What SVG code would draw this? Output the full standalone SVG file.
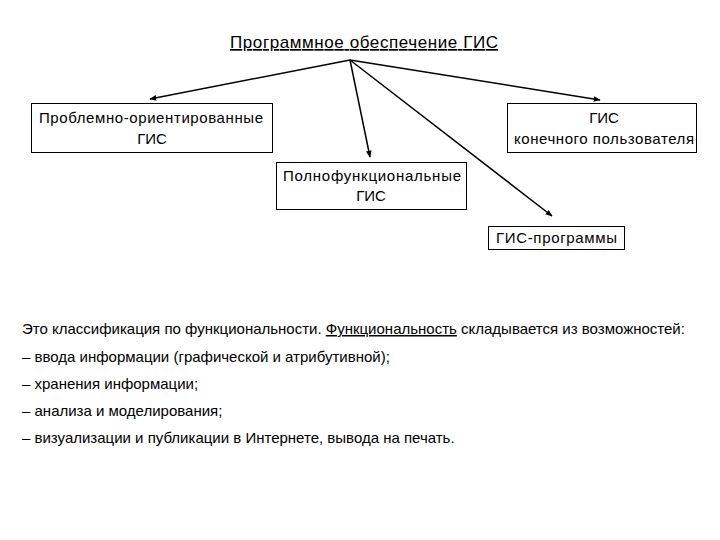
<svg xmlns="http://www.w3.org/2000/svg" width="720" height="540" viewBox="0 0 720 540">
<style>
text{font-family:"Liberation Sans",Arial,sans-serif;font-size:15px;fill:#000}
.bt{font-size:15px}
.tt{font-size:17px}
.box{fill:#fff;stroke:#000;stroke-width:1}
.c{text-anchor:middle}
.ln{stroke:#000;stroke-width:1.5;fill:none;marker-end:url(#ah)}
</style>
<defs>
<marker id="ah" viewBox="0 0 10 10" refX="9" refY="5" markerWidth="7" markerHeight="7" markerUnits="userSpaceOnUse" orient="auto">
<path d="M0,1 L10,5 L0,9 z" fill="#000"/>
</marker>
</defs>
<rect width="720" height="540" fill="#fff"/>
<g id="title">
<text class="tt" x="230" y="48" textLength="268" lengthAdjust="spacing" text-decoration="underline">Программное обеспечение ГИС</text>
</g>
<g id="connectors">
<line class="ln" x1="350" y1="60" x2="150" y2="99"/>
<line class="ln" x1="350" y1="60" x2="370" y2="157"/>
<line class="ln" x1="350" y1="60" x2="552" y2="216"/>
<line class="ln" x1="350" y1="60" x2="600" y2="100"/>
</g>
<g id="n-problem">
<rect class="box" x="31.5" y="103.5" width="241" height="49"/>
<text class="bt" x="39" y="123" textLength="224" lengthAdjust="spacing">Проблемно-ориентированные</text>
<text class="bt c" x="152" y="144">ГИС</text>
</g>
<g id="n-enduser">
<rect class="box" x="507.5" y="103.5" width="189" height="49"/>
<text class="bt c" x="604" y="123">ГИС</text>
<text class="bt" x="514" y="144" textLength="180" lengthAdjust="spacing">конечного пользователя</text>
</g>
<g id="n-full">
<rect class="box" x="276.5" y="162.5" width="190" height="47"/>
<text class="bt" x="283" y="181" textLength="178" lengthAdjust="spacing">Полнофункциональные</text>
<text class="bt c" x="371" y="201">ГИС</text>
</g>
<g id="n-programs">
<rect class="box" x="488.5" y="226.5" width="136" height="23"/>
<text class="bt" x="496" y="243" textLength="121" lengthAdjust="spacing">ГИС-программы</text>
</g>
<g id="description">
<text x="22" y="334">Это классификация по функциональности. <tspan text-decoration="underline">Функциональность</tspan> складывается из возможностей:</text>
<text x="22" y="362">– ввода информации (графической и атрибутивной);</text>
<text x="22" y="389">– хранения информации;</text>
<text x="22" y="416">– анализа и моделирования;</text>
<text x="22" y="443">– визуализации и публикации в Интернете, вывода на печать.</text>
</g>
</svg>
